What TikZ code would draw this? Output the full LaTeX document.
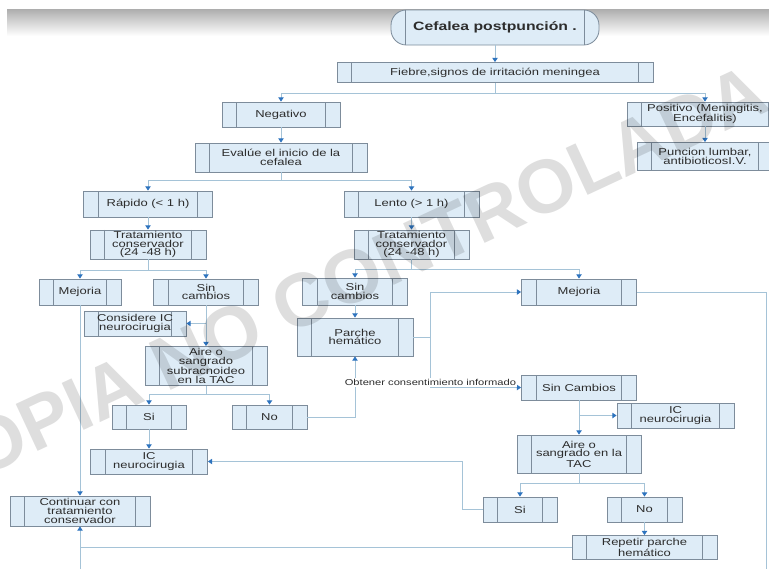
\documentclass[tikz,border=0pt]{standalone}
\usepackage{fontspec}
\setmainfont{Liberation Sans}[FakeStretch=1.3]
\newfontfamily\wmfont{Liberation Sans}
\usepackage{tikz}
\usetikzlibrary{arrows.meta, positioning, calc}
\definecolor{boxfill}{RGB}{222, 236, 247}
\definecolor{boxedge}{RGB}{125, 140, 155}
\definecolor{linkblue}{RGB}{165, 195, 215}
\definecolor{tipblue}{RGB}{45, 115, 190}
\definecolor{inktext}{RGB}{45, 45, 45}
\tikzset{
  sz/.style 2 args={minimum width=#1*0.85pt, minimum height=#2*0.85pt},
  procbox/.style={rectangle, draw=boxedge, fill=boxfill, line width=0.7pt, align=center, inner sep=1pt, text=inktext, font=\fontsize{8.5}{7.4}\selectfont,
    path picture={\draw[boxedge, line width=0.7pt]
      ([xshift=12.5pt]path picture bounding box.north west) -- ([xshift=12.5pt]path picture bounding box.south west)
      ([xshift=-12.5pt]path picture bounding box.north east) -- ([xshift=-12.5pt]path picture bounding box.south east);}},
  startbox/.style={procbox, rounded corners=13pt, font=\bfseries\fontsize{10.3}{12}\selectfont},
  link/.style={draw=linkblue, line width=0.7pt},
  arr/.style={link, -{Triangle[width=4.5pt, length=3.5pt, color=tipblue]}},
  notetext/.style={font=\fontsize{7.3}{8}\selectfont, text=inktext, fill=white, inner sep=1pt},
  wmark/.style={font=\wmfont\bfseries\fontsize{64}{64}\selectfont, text=black, text opacity=0.13}
}
\begin{document}
\begin{tikzpicture}[x=0.85pt, y=-0.85pt]
    \useasboundingbox (0,0) rectangle (769,569);
    % grey band at the top of the screenshot
    \shade[top color=black!32, bottom color=white] (7,9) rectangle (769,36);

    % Start and first question
    \node[startbox, sz={208}{35}] (cef) at (495,27.5) {Cefalea postpunción .};
    \node[procbox, sz={316}{20}] (fie) at (495,72.5) {Fiebre,signos de irritación meningea};
    \node[procbox, sz={118}{25}] (neg) at (281,114.5) {Negativo};
    \node[procbox, sz={156}{24}] (pos) at (705,114) {Positivo (Meningitis,\\Encefalitis)};
    \node[procbox, sz={172}{29}] (eva) at (281,157.5) {Evalúe el inicio de la\\cefalea};
    \node[procbox, sz={136}{28}] (pun) at (705,156.5) {Puncion lumbar,\\antibioticosI.V.};

    % Onset of the headache
    \node[procbox, sz={129}{26}] (rap) at (148,204) {Rápido (< 1 h)};
    \node[procbox, sz={135}{26}] (len) at (411.5,204) {Lento (> 1 h)};
    \node[procbox, sz={116}{25}] (tr1) at (148,244.5) {Tratamiento\\conservador\\(24 -48 h)};
    \node[procbox, sz={115}{25}] (tr2) at (411.5,244.5) {Tratamiento\\conservador\\(24 -48 h)};

    % Left branch
    \node[procbox, sz={82}{26}] (mej1) at (80,292) {Mejoria};
    \node[procbox, sz={105}{26}] (sin1) at (206,292) {Sin\\cambios};
    \node[procbox, sz={102}{25}] (con) at (135,323.5) {Considere IC\\neurocirugia};
    \node[procbox, sz={122}{39}] (aire1) at (206,366) {Aire o\\sangrado\\subracnoideo\\en la TAC};
    \node[procbox, sz={74}{24}] (si1) at (149,417) {Si};
    \node[procbox, sz={75}{24}] (no1) at (269.5,417) {No};
    \node[procbox, sz={117}{25}] (ic1) at (149,461.5) {IC\\neurocirugia};
    \node[procbox, sz={140}{30}] (cont) at (80,511) {Continuar con\\tratamiento\\conservador};

    % Right branch
    \node[procbox, sz={105}{27}] (sin2) at (355,291.5) {Sin\\cambios};
    \node[procbox, sz={116}{38}] (par) at (355,337) {Parche\\hemático};
    \node[procbox, sz={115}{26}] (mej2) at (579,292) {Mejoria};
    \node[procbox, sz={115}{25}] (sin3) at (579,387.5) {Sin Cambios};
    \node[procbox, sz={117}{25}] (ic2) at (675.5,415.5) {IC\\neurocirugia};
    \node[procbox, sz={124}{38}] (aire2) at (579,454) {Aire o\\sangrado en la\\TAC};
    \node[procbox, sz={74}{25}] (si2) at (520,509.5) {Si};
    \node[procbox, sz={75}{25}] (no2) at (644.5,509.5) {No};
    \node[procbox, sz={145}{24}] (rep) at (644.5,547.5) {Repetir parche\\hemático};

    % Links at the top
    \draw[arr] (cef) -- (fie);
    \draw[link] (fie.south) -- ++(0,10) coordinate (fj);
    \draw[arr] (fj) -| (neg.north);
    \draw[arr] (fj) -| (pos.north);
    \draw[arr] (neg) -- (eva);
    \draw[arr] (pos) -- (pun);
    \draw[link] (eva.south) -- ++(0,8) coordinate (ej);
    \draw[arr] (ej) -| (rap.north);
    \draw[arr] (ej) -| (len.north);
    \draw[arr] (rap) -- (tr1);
    \draw[arr] (len) -- (tr2);

    % Links on the left
    \draw[link] (tr1.south) -- ++(0,11) coordinate (lj);
    \draw[arr] (lj) -| (mej1.north);
    \draw[arr] (lj) -| (sin1.north);
    \draw[arr] (sin1) -- (aire1);
    \draw[arr] (sin1.south |- con.east) -- (con.east);
    \draw[link] (aire1.south) -- ++(0,8) coordinate (aj);
    \draw[arr] (aj) -| (si1.north);
    \draw[arr] (aj) -| (no1.north);
    \draw[arr] (si1) -- (ic1);
    \draw[arr] (no1.east) -| (par.south);
    \draw[arr] (mej1) -- (cont);

    % Links on the right
    \draw[link] (tr2.south) -- ++(0,10) coordinate (rj);
    \draw[arr] (rj) -| (sin2.north);
    \draw[arr] (rj) -| (mej2.north);
    \draw[arr] (sin2) -- (par);
    \draw[link] (par.east) -- ++(17,0) coordinate (pj);
    \draw[arr] (pj) |- (mej2.west);
    \draw[arr] (pj) |- node[notetext, pos=0.5, above=0.5pt] (obt) {Obtener consentimiento informado} (sin3.west);
    \draw[arr] (sin3) -- (aire2);
    \draw[arr] (sin3.south |- ic2.west) -- (ic2.west);
    \draw[link] (aire2.south) -- ++(0,10) coordinate (bj);
    \draw[arr] (bj) -| (si2.north);
    \draw[arr] (bj) -| (no2.north);
    \draw[arr] (no2) -- (rep);
    \draw[arr] (si2.west) -- ++(-20,0) |- (ic1.east);

    % Lines running off the page
    \coordinate (edgeR) at (766,569);
    \coordinate (edgeL) at (80,569);
    \draw[link] (mej2.east) -| (edgeR);
    \draw[arr] (rep.west) -| (cont.south);
    \draw[link] (edgeL) -- (cont.south |- rep.west);

    % watermark
    \node[wmark, rotate=25] (wm) at (341,282) {COPIA NO CONTROLADA};
\end{tikzpicture}
\end{document}
